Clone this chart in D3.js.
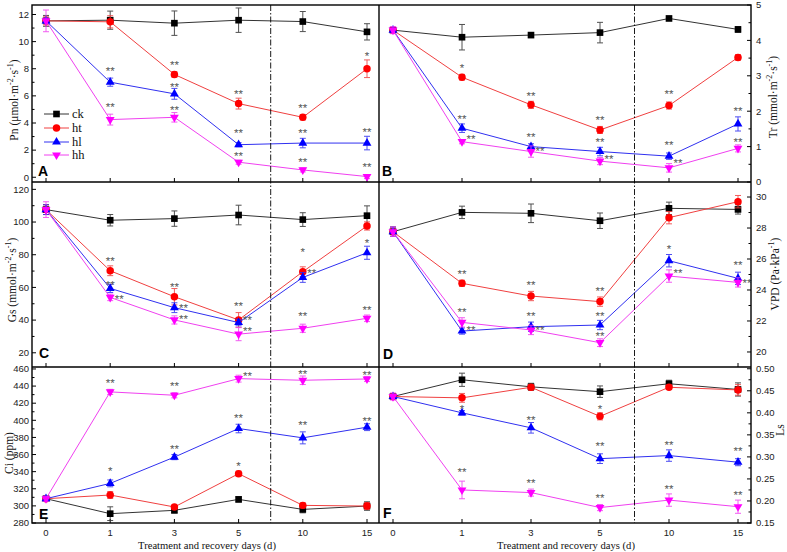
<!DOCTYPE html>
<html><head><meta charset="utf-8">
<script src="https://cdn.jsdelivr.net/npm/d3@7"></script>
<style>body{margin:0;background:#fff;} svg{display:block;}</style>
</head><body><svg id="chart" width="787" height="552"></svg>
<script>
// ---------- DATA ----------
const days = ["0", "1", "3", "5", "10", "15"];
const seriesNames = ["ck", "ht", "hl", "hh"];

// A: Pn
const pnCk = [11.53, 11.58, 11.36, 11.58, 11.48, 10.72];
const pnCkErr = [0.4, 0.67, 0.9, 0.9, 0.74, 0.6];
const pnHt = [11.53, 11.46, 7.58, 5.43, 4.42, 8.0];
const pnHtErr = [0.3, 0.45, 0.2, 0.4, 0.2, 0.65];
const pnHl = [11.53, 7.01, 6.15, 2.40, 2.52, 2.52];
const pnHlErr = [0.2, 0.3, 0.4, 0.15, 0.35, 0.5];
const pnHh = [11.53, 4.25, 4.42, 1.11, 0.54, 0.05];
const pnHhErr = [0.8, 0.4, 0.35, 0.15, 0.15, 0.15];

// B: Tr
const trCk = [4.29, 4.09, 4.15, 4.22, 4.62, 4.31];
const trCkErr = [0.05, 0.36, 0.07, 0.29, 0.06, 0.08];
const trHt = [4.29, 2.96, 2.18, 1.47, 2.16, 3.52];
const trHtErr = [0.05, 0.08, 0.1, 0.1, 0.1, 0.08];
const trHl = [4.29, 1.52, 1.0, 0.86, 0.73, 1.64];
const trHlErr = [0.05, 0.12, 0.08, 0.12, 0.09, 0.2];
const trHh = [4.29, 1.14, 0.86, 0.59, 0.40, 0.95];
const trHhErr = [0.1, 0.06, 0.16, 0.1, 0.12, 0.1];

// C: Gs
const gsCk = [107.6, 101.1, 102.1, 104.3, 101.5, 103.9];
const gsCkErr = [3, 3.5, 4.7, 6, 4.2, 6];
const gsHt = [107.6, 70.2, 54.3, 40.1, 69.6, 97.6];
const gsHtErr = [3, 3, 5, 4.5, 3, 2.5];
const gsHl = [107.6, 59.4, 47.6, 38.5, 66.1, 81.2];
const gsHlErr = [3, 2.5, 3, 2, 3, 4];
const gsHh = [107.6, 53.9, 40.1, 31.4, 35.0, 41.1];
const gsHhErr = [4.8, 2, 2.5, 4, 2.5, 2];

// D: VPD
const vpdCk = [27.76, 29.01, 28.95, 28.47, 29.27, 29.2];
const vpdCkErr = [0.3, 0.4, 0.6, 0.5, 0.4, 0.3];
const vpdHt = [27.76, 24.43, 23.61, 23.25, 28.67, 29.70];
const vpdHtErr = [0.3, 0.2, 0.3, 0.3, 0.4, 0.4];
const vpdHl = [27.76, 21.35, 21.63, 21.74, 25.89, 24.75];
const vpdHlErr = [0.3, 0.2, 0.3, 0.3, 0.4, 0.4];
const vpdHh = [27.76, 21.91, 21.42, 20.60, 24.90, 24.49];
const vpdHhErr = [0.3, 0.3, 0.3, 0.25, 0.4, 0.3];

// E: Ci
const ciCk = [308.4, 290.9, 294.8, 307.6, 295.9, 299.8];
const ciCkErr = [3, 8, 3, 3, 4, 5];
const ciHt = [308.4, 312.7, 298.7, 337.6, 300.6, 299.8];
const ciHtErr = [3, 4, 2, 3, 3, 4];
const ciHl = [308.4, 326.3, 357, 390.4, 379.5, 392];
const ciHlErr = [3, 4, 3, 5, 7, 4];
const ciHh = [308.4, 433.2, 429.3, 448.7, 446.8, 448.3];
const ciHhErr = [3, 3, 3, 4, 5, 3];

// F: Ls
const lsCk = [0.437, 0.475, 0.459, 0.448, 0.466, 0.453];
const lsCkErr = [0.005, 0.015, 0.008, 0.013, 0.008, 0.015];
const lsHt = [0.437, 0.434, 0.458, 0.392, 0.458, 0.452];
const lsHtErr = [0.005, 0.01, 0.006, 0.008, 0.005, 0.012];
const lsHl = [0.437, 0.400, 0.366, 0.296, 0.303, 0.288];
const lsHlErr = [0.005, 0.005, 0.012, 0.011, 0.013, 0.008];
const lsHh = [0.437, 0.225, 0.219, 0.185, 0.202, 0.187];
const lsHhErr = [0.008, 0.02, 0.008, 0.007, 0.014, 0.015];

// significance marks: [day index, value, text, placed right of point (1) or not (0)]
const sigA = [[1,8.0,"**",0],[1,5.36,"**",0],[2,8.44,"**",0],[2,6.77,"**",0],[2,5.11,"**",0],[3,6.27,"**",0],[3,3.38,"**",0],[3,1.70,"**",0],[4,5.28,"**",0],[4,3.38,"**",0],[4,1.28,"**",0],[5,9.06,"*",0],[5,3.51,"**",0],[5,0.91,"**",0]];
const sigB = [[1,3.28,"*",0],[1,1.85,"**",0],[1,1.28,"**",1],[2,2.50,"**",0],[2,1.33,"**",0],[2,0.93,"**",1],[3,1.80,"**",0],[3,1.19,"**",0],[3,0.72,"**",1],[4,2.55,"**",0],[4,1.09,"**",0],[4,0.59,"**",1],[5,2.06,"**",0],[5,1.19,"**",0]];
const sigC = [[1,77.3,"**",0],[1,62.5,"**",0],[1,54.3,"**",1],[2,61.5,"**",0],[2,48.9,"**",1],[2,42.2,"**",1],[3,49.9,"**",0],[3,41.1,"**",1],[3,34.4,"**",1],[4,82.8,"*",0],[4,70.2,"**",1],[4,43.6,"**",0],[5,88.3,"*",0],[5,47.6,"**",0]];
const sigD = [[1,25.18,"**",0],[1,22.71,"**",0],[1,21.53,"**",1],[2,24.43,"**",0],[2,22.43,"**",0],[2,21.57,"**",1],[3,24.06,"**",0],[3,22.43,"**",0],[3,21.16,"**",0],[4,26.80,"*",0],[4,25.25,"**",1],[5,25.72,"**",0],[5,24.60,"**",1]];
const sigE = [[1,445.6,"**",0],[1,343.4,"*",0],[2,442.5,"**",0],[2,369,"**",0],[3,454.6,"**",1],[3,405.6,"**",0],[3,349.2,"*",0],[4,456.5,"**",0],[4,397,"**",0],[5,455.4,"**",0],[5,401.7,"**",0]];
const sigF = [[1,0.413,"*",0],[1,0.271,"**",0],[2,0.389,"**",0],[2,0.246,"**",0],[3,0.413,"*",0],[3,0.330,"**",0],[3,0.212,"**",0],[4,0.332,"**",0],[4,0.232,"**",0],[5,0.317,"**",0],[5,0.219,"**",0]];

const xTitle = "Treatment and recovery days (d)";

// ---------- LAYOUT / STYLE ----------
const svg = d3.select("#chart");
const FL = 32, FM = 379, FR = 751;
const rows = [[5, 182], [182, 367], [367, 523]];
const xScales = [
  d3.scalePoint().domain(days).range([46, 367]),
  d3.scalePoint().domain(days).range([393, 738])
];
const colors = {ck: "#000000", ht: "#ff0000", hl: "#0000ff", hh: "#ff00ff"};
const lineColors = {ck: "#333333", ht: "#f04040", hl: "#3030f0", hh: "#f040f0"};
const symbols = {
  ck: d3.symbol().type(d3.symbolSquare).size(44)(),
  ht: d3.symbol().type(d3.symbolCircle).size(44)(),
  hl: d3.symbol().type(d3.symbolTriangle).size(34)(),
  hh: d3.symbol().type(d3.symbolTriangle).size(34)()
};
const symRot = {ck: 0, ht: 0, hl: 0, hh: 180};
const sans = "'Liberation Sans', Arial, sans-serif";
const serif = "'Liberation Serif', 'Times New Roman', serif";
const tickFont = 9.5;

const panels = [
  {letter: "A", col: 0, row: 0, domain: [-0.35, 12.7], major: d3.range(0, 13, 2), minor: d3.range(1, 12, 2), fmt: d3.format("d"),
   data: {ck: [pnCk, pnCkErr], ht: [pnHt, pnHtErr], hl: [pnHl, pnHlErr], hh: [pnHh, pnHhErr]}, sig: sigA,
   label: [["Pn (μmol·m", 0], ["-2", 1], ["·s", 0], ["-1", 1], [")", 0]], labelX: 18, labelY: 100, letterPos: [38, 176]},
  {letter: "B", col: 1, row: 0, domain: [0, 5], major: d3.range(0, 6, 1), minor: d3.range(0.5, 5, 1), fmt: d3.format("d"),
   data: {ck: [trCk, trCkErr], ht: [trHt, trHtErr], hl: [trHl, trHlErr], hh: [trHh, trHhErr]}, sig: sigB,
   label: [["Tr (mmol·m", 0], ["-2", 1], ["·s", 0], ["-1", 1], [")", 0]], labelX: 777, labelY: 97, letterPos: [382, 176]},
  {letter: "C", col: 0, row: 1, domain: [11.3, 124.5], major: d3.range(20, 121, 20), minor: d3.range(30, 120, 20), fmt: d3.format("d"),
   data: {ck: [gsCk, gsCkErr], ht: [gsHt, gsHtErr], hl: [gsHl, gsHlErr], hh: [gsHh, gsHhErr]}, sig: sigC,
   label: [["Gs (mmol·m", 0], ["-2", 1], ["·s", 0], ["-1", 1], [")", 0]], labelX: 16, labelY: 280, letterPos: [39, 358]},
  {letter: "D", col: 1, row: 1, domain: [19.03, 30.97], major: d3.range(20, 31, 2), minor: d3.range(21, 31, 2), fmt: d3.format("d"),
   data: {ck: [vpdCk, vpdCkErr], ht: [vpdHt, vpdHtErr], hl: [vpdHl, vpdHlErr], hh: [vpdHh, vpdHhErr]}, sig: sigD,
   label: [["VPD (Pa·kPa", 0], ["-1", 1], [")", 0]], labelX: 779, labelY: 274, letterPos: [383, 359]},
  {letter: "E", col: 0, row: 2, domain: [280, 462.3], major: d3.range(280, 461, 20), minor: d3.range(290, 460, 20), fmt: d3.format("d"),
   data: {ck: [ciCk, ciCkErr], ht: [ciHt, ciHtErr], hl: [ciHl, ciHlErr], hh: [ciHh, ciHhErr]}, sig: sigE,
   label: [["Ci (ppm)", 0]], labelX: 13, labelY: 453, letterPos: [39, 519]},
  {letter: "F", col: 1, row: 2, domain: [0.15, 0.504], major: d3.range(0.15, 0.501, 0.05), minor: d3.range(0.175, 0.5, 0.05), fmt: d3.format(".2f"),
   data: {ck: [lsCk, lsCkErr], ht: [lsHt, lsHtErr], hl: [lsHl, lsHlErr], hh: [lsHh, lsHhErr]}, sig: sigF,
   label: [["Ls", 0]], labelX: 784, labelY: 430, letterPos: [383, 518]}
];

function richText(sel, parts, size) {
  parts.forEach(([t, sup], i) => {
    const prev = i > 0 ? parts[i - 1][1] : 0;
    let dy = 0;
    if (sup && !prev) dy = -size * 0.4;
    if (!sup && prev) dy = size * 0.4;
    sel.append("tspan").attr("dy", dy).attr("font-size", sup ? size * 0.7 : size).text(t);
  });
}

// ---------- DRAW ----------
panels.forEach(p => {
  const x = xScales[p.col];
  const [top, bottom] = rows[p.row];
  const y = d3.scaleLinear().domain(p.domain).range([bottom, top]);
  const g = svg.append("g");

  // y ticks: left column on left frame, right column on right frame, inward
  const axisX = p.col === 0 ? FL : FR;
  const dir = p.col === 0 ? 1 : -1;
  g.selectAll(".maj").data(p.major).join("line")
    .attr("x1", axisX).attr("x2", axisX + dir * 4)
    .attr("y1", d => y(d)).attr("y2", d => y(d))
    .attr("stroke", "#000").attr("stroke-width", 1);
  g.selectAll(".min").data(p.minor).join("line")
    .attr("x1", axisX).attr("x2", axisX + dir * 2.5)
    .attr("y1", d => y(d)).attr("y2", d => y(d))
    .attr("stroke", "#000").attr("stroke-width", 1);
  g.selectAll(".tl").data(p.major).join("text")
    .attr("x", p.col === 0 ? FL - 3 : FR + 5)
    .attr("y", d => y(d) + 3.3)
    .attr("text-anchor", p.col === 0 ? "end" : "start")
    .attr("font-family", sans).attr("font-size", tickFont).attr("fill", "#222")
    .text(d => p.fmt(d));

  // bottom category ticks, pointing up
  g.selectAll(".xt").data(days).join("line")
    .attr("x1", d => x(d)).attr("x2", d => x(d))
    .attr("y1", bottom).attr("y2", bottom - 4)
    .attr("stroke", "#000").attr("stroke-width", 1);

  // axis label
  const lt = g.append("text")
    .attr("transform", `translate(${p.labelX},${p.labelY}) rotate(-90)`)
    .attr("text-anchor", "middle")
    .attr("font-family", serif).attr("fill", "#111");
  richText(lt, p.label, 11.5);

  // series
  const line = d3.line().x((d, i) => x(days[i])).y(d => y(d));
  seriesNames.forEach(s => {
    const [vals, errs] = p.data[s];
    g.append("path").attr("d", line(vals)).attr("fill", "none")
      .attr("stroke", lineColors[s]).attr("stroke-width", 1);
    const eb = g.append("g").attr("stroke", lineColors[s]).attr("stroke-width", 1).attr("opacity", 0.85);
    vals.forEach((v, i) => {
      const cx = x(days[i]), y1 = y(v + errs[i]), y2 = y(v - errs[i]);
      eb.append("line").attr("x1", cx).attr("x2", cx).attr("y1", y1).attr("y2", y2);
      eb.append("line").attr("x1", cx - 3).attr("x2", cx + 3).attr("y1", y1).attr("y2", y1);
      eb.append("line").attr("x1", cx - 3).attr("x2", cx + 3).attr("y1", y2).attr("y2", y2);
    });
    g.selectAll(null).data(vals).join("path")
      .attr("d", symbols[s])
      .attr("transform", (d, i) => `translate(${x(days[i])},${y(d)}) rotate(${symRot[s]})`)
      .attr("fill", colors[s]);
  });

  // significance marks
  g.selectAll(".sig").data(p.sig).join("text")
    .attr("x", d => x(days[d[0]]) + (d[3] ? 9 : 0))
    .attr("y", d => y(d[1]) + 6)
    .attr("text-anchor", "middle")
    .attr("font-family", sans).attr("font-size", 11.5).attr("fill", "#555")
    .text(d => d[2]);

  // panel letter
  g.append("text").attr("x", p.letterPos[0]).attr("y", p.letterPos[1])
    .attr("font-family", sans).attr("font-weight", "bold").attr("font-size", 14)
    .attr("fill", "#000").text(p.letter);
});

// dash-dot separators between treatment and recovery
xScales.forEach(x => {
  const mx = (x("5") + x("10")) / 2;
  svg.append("line").attr("x1", mx).attr("x2", mx).attr("y1", 5).attr("y2", 523)
    .attr("stroke", "#000").attr("stroke-width", 0.9).attr("stroke-dasharray", "6,2,1.5,2");
});

// frame and panel dividers
svg.append("rect").attr("x", FL).attr("y", 5).attr("width", FR - FL).attr("height", 523 - 5)
  .attr("fill", "none").attr("stroke", "#000").attr("stroke-width", 1.4);
svg.append("line").attr("x1", FM).attr("x2", FM).attr("y1", 5).attr("y2", 523).attr("stroke", "#000").attr("stroke-width", 1.4);
[182, 367].forEach(yy => svg.append("line").attr("x1", FL).attr("x2", FR).attr("y1", yy).attr("y2", yy).attr("stroke", "#000").attr("stroke-width", 1.4));

// x tick labels and titles
xScales.forEach((x, ci) => {
  svg.selectAll(null).data(days).join("text")
    .attr("x", d => x(d)).attr("y", 535.5)
    .attr("text-anchor", "middle").attr("font-family", sans).attr("font-size", tickFont).attr("fill", "#222")
    .text(d => d);
  svg.append("text").attr("x", ci === 0 ? 207 : 566).attr("y", 548.5)
    .attr("text-anchor", "middle").attr("font-family", serif).attr("font-size", 10.6).attr("fill", "#111")
    .text(xTitle);
});

// legend in panel A
const legY = [114, 128, 142, 155];
const legend = svg.append("g");
seriesNames.forEach((s, i) => {
  legend.append("line").attr("x1", 44).attr("x2", 69).attr("y1", legY[i]).attr("y2", legY[i])
    .attr("stroke", lineColors[s]).attr("stroke-width", 1);
  legend.append("path").attr("d", symbols[s])
    .attr("transform", `translate(56.5,${legY[i]}) rotate(${symRot[s]})`).attr("fill", colors[s]);
  legend.append("text").attr("x", 72).attr("y", legY[i] + 4)
    .attr("font-family", serif).attr("font-size", 12.5).attr("fill", "#111").text(s);
});
</script>
</body></html>
